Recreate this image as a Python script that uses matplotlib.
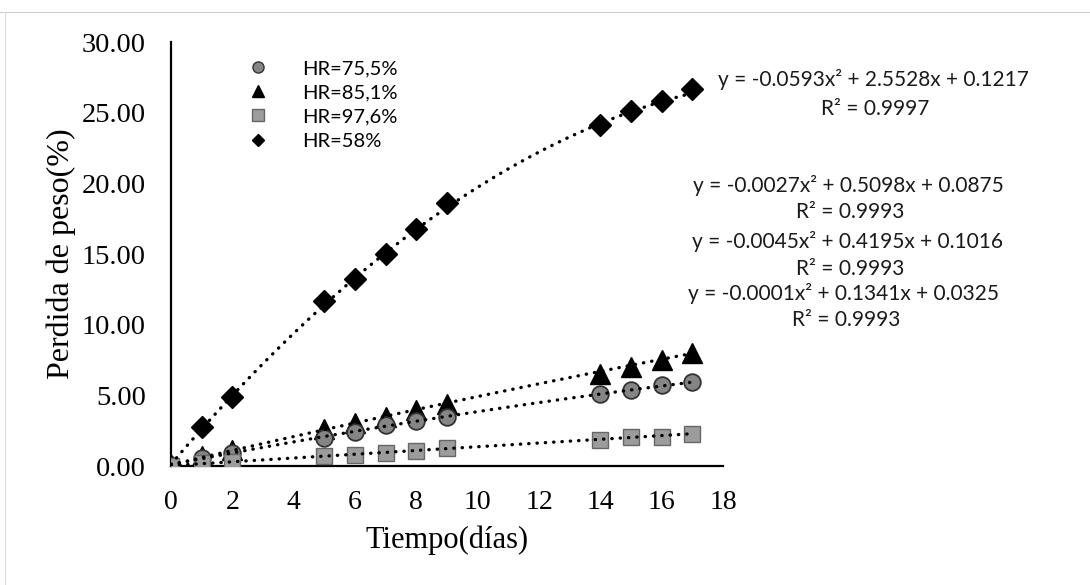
import numpy as np
import matplotlib
matplotlib.use("Agg")
import matplotlib.pyplot as plt
from matplotlib.lines import Line2D

# ---- data ----
dias = [0, 1, 2, 5, 6, 7, 8, 9, 14, 15, 16, 17]
hr_755 = [0.0, 0.60, 0.92, 2.00, 2.43, 2.88, 3.15, 3.50, 5.10, 5.38, 5.72, 5.97]
hr_851 = [0.0, 0.72, 1.10, 2.65, 3.02, 3.50, 3.95, 4.40, 6.50, 7.03, 7.50, 8.00]
hr_976 = [0.0, 0.20, 0.30, 0.68, 0.80, 0.92, 1.05, 1.25, 1.86, 2.03, 2.08, 2.26]
hr_58 = [0.0, 2.78, 4.90, 11.70, 13.25, 15.00, 16.80, 18.60, 24.10, 25.10, 25.85, 26.70]

labels = ["HR=75,5%", "HR=85,1%", "HR=97,6%", "HR=58%"]

# trendline coefficients shown on the chart (a, b, c) and R^2
coef_58 = [-0.0593, 2.5528, 0.1217]
coef_851 = [-0.0027, 0.5098, 0.0875]
coef_755 = [-0.0045, 0.4195, 0.1016]
coef_976 = [-0.0001, 0.1341, 0.0325]
r2_58, r2_851, r2_755, r2_976 = 0.9997, 0.9993, 0.9993, 0.9993

xticks = [0, 2, 4, 6, 8, 10, 12, 14, 16, 18]
yticks = [0, 5, 10, 15, 20, 25, 30]

W, H = 1090, 585
fig = plt.figure(figsize=(W / 100, H / 100), dpi=100)
ax = fig.add_axes([171 / W, 1 - 466 / H, (723 - 171) / W, (466 - 42) / H])

serif = "Liberation Serif"
sans = "Lato"

# markers
ax.plot(dias, hr_851, ls="none", marker="^", ms=15, mfc="black", mec="black", zorder=3)
ax.plot(dias, hr_755, ls="none", marker="o", ms=12, mfc="#858585", mec="#333333", mew=1.3, zorder=4)
ax.plot(dias, hr_976, ls="none", marker="s", ms=11, mfc="#9c9c9c", mec="#666666", mew=1.0, zorder=5)
ax.plot(dias, hr_58, ls="none", marker="D", ms=11, mfc="black", mec="black", zorder=3)

# trendlines (dotted)
xt = np.linspace(0, 17, 300)
for cf in (coef_58, coef_851, coef_755, coef_976):
    ax.plot(xt, np.polyval(cf, xt), color="black", lw=2.4,
            ls=(0, (0.1, 2.4)), dash_capstyle="round", zorder=6)

ax.set_xlim(0, 18)
ax.set_ylim(0, 30)
ax.set_xticks(xticks)
ax.set_yticks(yticks)
ax.set_xticklabels([str(t) for t in xticks], fontfamily=serif, fontsize=20)
ax.set_yticklabels([f"{t:.2f}" for t in yticks], fontfamily=serif, fontsize=20.5)
ax.tick_params(axis="x", length=0, pad=17)
ax.tick_params(axis="y", length=0, pad=18)
for s in ("top", "right"):
    ax.spines[s].set_visible(False)
for s in ("left", "bottom"):
    ax.spines[s].set_linewidth(1.6)
    ax.spines[s].set_color("black")
ax.set_xlabel("Tiempo(días)", fontfamily=serif, fontsize=22, labelpad=8)
ax.set_ylabel("Perdida de peso(%)", fontfamily=serif, fontsize=23, labelpad=4)
ax.patch.set_visible(False)

# legend
handles = [
    Line2D([], [], ls="none", marker="o", ms=8, mfc="#858585", mec="#333333"),
    Line2D([], [], ls="none", marker="^", ms=9, mfc="black", mec="black"),
    Line2D([], [], ls="none", marker="s", ms=8, mfc="#9c9c9c", mec="#666666"),
    Line2D([], [], ls="none", marker="D", ms=6.5, mfc="black", mec="black"),
]
ax.legend(handles, labels, loc="upper left", bbox_to_anchor=(238 / W, 1 - 50 / H),
          bbox_transform=fig.transFigure, frameon=False, prop={"family": sans, "size": 14.5},
          handletextpad=1.7, labelspacing=0.35, borderpad=0, handlelength=1.0)

# equations
def eq(cf):
    a, b, c = cf
    return f"y = {a:.4f}x² + {b:.4f}x + {c:.4f}"

txt = dict(fontfamily=sans, fontsize=15, color="#1a1a1a", ha="center", va="center")
fig.text(873 / W, 1 - 80 / H, eq(coef_58), **txt)
fig.text(875 / W, 1 - 109 / H, f"R² = {r2_58:.4f}", **txt)
fig.text(848 / W, 1 - 185 / H, eq(coef_851), **txt)
fig.text(850 / W, 1 - 212 / H, f"R² = {r2_851:.4f}", **txt)
fig.text(848 / W, 1 - 242 / H, eq(coef_755), **txt)
fig.text(850 / W, 1 - 269 / H, f"R² = {r2_755:.4f}", **txt)
fig.text(844 / W, 1 - 293 / H, eq(coef_976), **txt)
fig.text(846 / W, 1 - 320 / H, f"R² = {r2_976:.4f}", **txt)

# faint scan edges
fig.add_artist(Line2D([0, 1], [1 - 12 / H, 1 - 12 / H], transform=fig.transFigure,
                      color="#cfcfcf", lw=0.8))
fig.add_artist(Line2D([5 / W, 5 / W], [0, 1 - 12 / H], transform=fig.transFigure,
                      color="#dcdcdc", lw=0.8))

fig.savefig("out.png", dpi=100)
